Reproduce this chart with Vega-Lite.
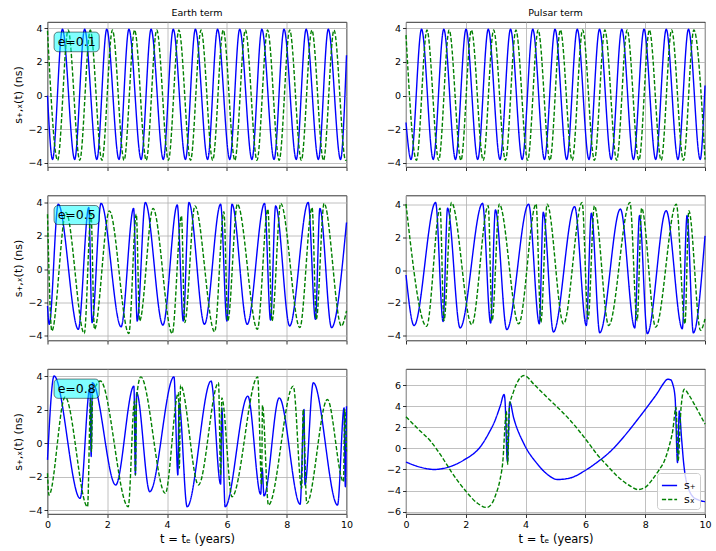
{
  "$schema": "https://vega.github.io/schema/vega-lite/v6.json",
  "background": "white",
  "padding": {"left": 12.5, "top": 7, "right": 4, "bottom": 2},
  "datasets": {
    "e1": [
      {"t": 0, "v": 0, "s": "+"}, {"t": 0.168, "v": -3.8, "s": "+"}, {"t": 0.5, "v": 3.95, "s": "+"},
      {"t": 0.909, "v": -3.8, "s": "+"}, {"t": 1.241, "v": 3.95, "s": "+"}, {"t": 1.65, "v": -3.8, "s": "+"},
      {"t": 1.982, "v": 3.95, "s": "+"}, {"t": 2.391, "v": -3.8, "s": "+"}, {"t": 2.723, "v": 3.95, "s": "+"},
      {"t": 3.132, "v": -3.8, "s": "+"}, {"t": 3.464, "v": 3.95, "s": "+"}, {"t": 3.873, "v": -3.8, "s": "+"},
      {"t": 4.205, "v": 3.95, "s": "+"}, {"t": 4.614, "v": -3.8, "s": "+"}, {"t": 4.946, "v": 3.95, "s": "+"},
      {"t": 5.355, "v": -3.8, "s": "+"}, {"t": 5.687, "v": 3.95, "s": "+"}, {"t": 6.096, "v": -3.8, "s": "+"},
      {"t": 6.428, "v": 3.95, "s": "+"}, {"t": 6.837, "v": -3.8, "s": "+"}, {"t": 7.169, "v": 3.95, "s": "+"},
      {"t": 7.578, "v": -3.8, "s": "+"}, {"t": 7.91, "v": 3.95, "s": "+"}, {"t": 8.319, "v": -3.8, "s": "+"},
      {"t": 8.651, "v": 3.95, "s": "+"}, {"t": 9.06, "v": -3.8, "s": "+"}, {"t": 9.392, "v": 3.95, "s": "+"},
      {"t": 9.801, "v": -3.8, "s": "+"}, {"t": 10, "v": 2.4, "s": "+"},
      {"t": 0, "v": 3.85, "s": "x"}, {"t": 0.338, "v": -3.85, "s": "x"}, {"t": 0.69, "v": 3.9, "s": "x"},
      {"t": 1.079, "v": -3.85, "s": "x"}, {"t": 1.431, "v": 3.9, "s": "x"}, {"t": 1.82, "v": -3.85, "s": "x"},
      {"t": 2.172, "v": 3.9, "s": "x"}, {"t": 2.561, "v": -3.85, "s": "x"}, {"t": 2.913, "v": 3.9, "s": "x"},
      {"t": 3.302, "v": -3.85, "s": "x"}, {"t": 3.654, "v": 3.9, "s": "x"}, {"t": 4.043, "v": -3.85, "s": "x"},
      {"t": 4.395, "v": 3.9, "s": "x"}, {"t": 4.784, "v": -3.85, "s": "x"}, {"t": 5.136, "v": 3.9, "s": "x"},
      {"t": 5.525, "v": -3.85, "s": "x"}, {"t": 5.877, "v": 3.9, "s": "x"}, {"t": 6.266, "v": -3.85, "s": "x"},
      {"t": 6.618, "v": 3.9, "s": "x"}, {"t": 7.007, "v": -3.85, "s": "x"}, {"t": 7.359, "v": 3.9, "s": "x"},
      {"t": 7.748, "v": -3.85, "s": "x"}, {"t": 8.1, "v": 3.9, "s": "x"}, {"t": 8.489, "v": -3.85, "s": "x"},
      {"t": 8.841, "v": 3.9, "s": "x"}, {"t": 9.23, "v": -3.85, "s": "x"}, {"t": 9.582, "v": 3.9, "s": "x"},
      {"t": 9.971, "v": -3.85, "s": "x"}, {"t": 10, "v": -3.82, "s": "x"}
    ],
    "p1": [
      {"t": 0, "v": -1.6, "s": "+"}, {"t": 0.167, "v": -3.8, "s": "+"}, {"t": 0.52, "v": 3.95, "s": "+"},
      {"t": 0.911, "v": -3.8, "s": "+"}, {"t": 1.264, "v": 3.95, "s": "+"}, {"t": 1.655, "v": -3.8, "s": "+"},
      {"t": 2.008, "v": 3.95, "s": "+"}, {"t": 2.399, "v": -3.8, "s": "+"}, {"t": 2.752, "v": 3.95, "s": "+"},
      {"t": 3.143, "v": -3.8, "s": "+"}, {"t": 3.496, "v": 3.95, "s": "+"}, {"t": 3.887, "v": -3.8, "s": "+"},
      {"t": 4.24, "v": 3.95, "s": "+"}, {"t": 4.631, "v": -3.8, "s": "+"}, {"t": 4.984, "v": 3.95, "s": "+"},
      {"t": 5.375, "v": -3.8, "s": "+"}, {"t": 5.728, "v": 3.95, "s": "+"}, {"t": 6.119, "v": -3.8, "s": "+"},
      {"t": 6.472, "v": 3.95, "s": "+"}, {"t": 6.863, "v": -3.8, "s": "+"}, {"t": 7.216, "v": 3.95, "s": "+"},
      {"t": 7.607, "v": -3.8, "s": "+"}, {"t": 7.96, "v": 3.95, "s": "+"}, {"t": 8.351, "v": -3.8, "s": "+"},
      {"t": 8.704, "v": 3.95, "s": "+"}, {"t": 9.095, "v": -3.8, "s": "+"}, {"t": 9.448, "v": 3.95, "s": "+"},
      {"t": 9.839, "v": -3.8, "s": "+"}, {"t": 10, "v": 0.6, "s": "+"},
      {"t": 0, "v": 3.6, "s": "x"}, {"t": 0.35, "v": -3.85, "s": "x"}, {"t": 0.7, "v": 3.9, "s": "x"},
      {"t": 1.094, "v": -3.85, "s": "x"}, {"t": 1.444, "v": 3.9, "s": "x"}, {"t": 1.838, "v": -3.85, "s": "x"},
      {"t": 2.188, "v": 3.9, "s": "x"}, {"t": 2.582, "v": -3.85, "s": "x"}, {"t": 2.932, "v": 3.9, "s": "x"},
      {"t": 3.326, "v": -3.85, "s": "x"}, {"t": 3.676, "v": 3.9, "s": "x"}, {"t": 4.07, "v": -3.85, "s": "x"},
      {"t": 4.42, "v": 3.9, "s": "x"}, {"t": 4.814, "v": -3.85, "s": "x"}, {"t": 5.164, "v": 3.9, "s": "x"},
      {"t": 5.558, "v": -3.85, "s": "x"}, {"t": 5.908, "v": 3.9, "s": "x"}, {"t": 6.302, "v": -3.85, "s": "x"},
      {"t": 6.652, "v": 3.9, "s": "x"}, {"t": 7.046, "v": -3.85, "s": "x"}, {"t": 7.396, "v": 3.9, "s": "x"},
      {"t": 7.79, "v": -3.85, "s": "x"}, {"t": 8.14, "v": 3.9, "s": "x"}, {"t": 8.534, "v": -3.85, "s": "x"},
      {"t": 8.884, "v": 3.9, "s": "x"}, {"t": 9.278, "v": -3.85, "s": "x"}, {"t": 9.628, "v": 3.9, "s": "x"},
      {"t": 10, "v": -3.8, "s": "x"}
    ],
    "e5": [
      {"t": 0, "v": -2.2, "s": "+"}, {"t": 0.056, "v": -3.3, "s": "+"}, {"t": 0.36, "v": 3.9, "s": "+"},
      {"t": 1.03, "v": -3.6, "s": "+"}, {"t": 1.38, "v": 3.7, "s": "+"}, {"t": 1.49, "v": -3.2, "s": "+"},
      {"t": 1.79, "v": 3.95, "s": "+"}, {"t": 2.46, "v": -3.45, "s": "+"}, {"t": 2.88, "v": 3.65, "s": "+"},
      {"t": 3.0, "v": -3.1, "s": "+"}, {"t": 3.27, "v": 4.0, "s": "+"}, {"t": 3.86, "v": -3.35, "s": "+"},
      {"t": 4.34, "v": 3.85, "s": "+"}, {"t": 4.54, "v": -3.1, "s": "+"}, {"t": 4.73, "v": 4.0, "s": "+"},
      {"t": 5.25, "v": -3.3, "s": "+"}, {"t": 5.79, "v": 3.9, "s": "+"}, {"t": 6.0, "v": -3.1, "s": "+"},
      {"t": 6.17, "v": 3.9, "s": "+"}, {"t": 6.68, "v": -3.3, "s": "+"}, {"t": 7.26, "v": 3.95, "s": "+"},
      {"t": 7.46, "v": -3.05, "s": "+"}, {"t": 7.63, "v": 3.8, "s": "+"}, {"t": 8.1, "v": -3.4, "s": "+"},
      {"t": 8.72, "v": 4.0, "s": "+"}, {"t": 8.96, "v": -3.0, "s": "+"}, {"t": 9.11, "v": 3.65, "s": "+"},
      {"t": 9.5, "v": -3.5, "s": "+"}, {"t": 10, "v": 2.8, "s": "+"},
      {"t": 0, "v": 3.3, "s": "x"}, {"t": 0.146, "v": -3.7, "s": "x"}, {"t": 0.62, "v": 3.4, "s": "x"},
      {"t": 1.23, "v": -3.85, "s": "x"}, {"t": 1.455, "v": 3.3, "s": "x"}, {"t": 1.57, "v": -3.6, "s": "x"},
      {"t": 2.07, "v": 3.5, "s": "x"}, {"t": 2.72, "v": -3.85, "s": "x"}, {"t": 2.97, "v": 3.3, "s": "x"},
      {"t": 3.08, "v": -3.1, "s": "x"}, {"t": 3.53, "v": 3.65, "s": "x"}, {"t": 4.17, "v": -3.85, "s": "x"},
      {"t": 4.48, "v": 3.2, "s": "x"}, {"t": 4.59, "v": -3.2, "s": "x"}, {"t": 4.93, "v": 3.8, "s": "x"},
      {"t": 5.59, "v": -3.75, "s": "x"}, {"t": 5.9, "v": 3.45, "s": "x"}, {"t": 6.03, "v": -3.1, "s": "x"},
      {"t": 6.35, "v": 3.9, "s": "x"}, {"t": 7.02, "v": -3.6, "s": "x"}, {"t": 7.37, "v": 3.6, "s": "x"},
      {"t": 7.51, "v": -3.1, "s": "x"}, {"t": 7.8, "v": 3.95, "s": "x"}, {"t": 8.44, "v": -3.5, "s": "x"},
      {"t": 8.85, "v": 3.7, "s": "x"}, {"t": 8.99, "v": -3.0, "s": "x"}, {"t": 9.25, "v": 3.95, "s": "x"},
      {"t": 9.83, "v": -3.4, "s": "x"}, {"t": 10, "v": -2.5, "s": "x"}
    ],
    "p5": [
      {"t": 0, "v": -0.3, "s": "+"}, {"t": 0.27, "v": -3.4, "s": "+"}, {"t": 0.99, "v": 4.15, "s": "+"},
      {"t": 1.24, "v": -3.15, "s": "+"}, {"t": 1.39, "v": 3.8, "s": "+"}, {"t": 1.81, "v": -3.55, "s": "+"},
      {"t": 2.56, "v": 4.1, "s": "+"}, {"t": 2.83, "v": -3.25, "s": "+"}, {"t": 2.99, "v": 3.7, "s": "+"},
      {"t": 3.37, "v": -3.65, "s": "+"}, {"t": 4.1, "v": 4.05, "s": "+"}, {"t": 4.46, "v": -3.3, "s": "+"},
      {"t": 4.59, "v": 3.55, "s": "+"}, {"t": 4.93, "v": -3.8, "s": "+"}, {"t": 5.64, "v": 3.9, "s": "+"},
      {"t": 6.03, "v": -3.4, "s": "+"}, {"t": 6.2, "v": 3.5, "s": "+"}, {"t": 6.48, "v": -3.85, "s": "+"},
      {"t": 7.17, "v": 3.75, "s": "+"}, {"t": 7.65, "v": -3.55, "s": "+"}, {"t": 7.81, "v": 3.35, "s": "+"},
      {"t": 8.07, "v": -3.9, "s": "+"}, {"t": 8.7, "v": 3.65, "s": "+"}, {"t": 9.24, "v": -3.6, "s": "+"},
      {"t": 9.4, "v": 3.35, "s": "+"}, {"t": 9.61, "v": -3.85, "s": "+"}, {"t": 10, "v": 2.1, "s": "+"},
      {"t": 0, "v": 4.05, "s": "x"}, {"t": 0.69, "v": -3.45, "s": "x"}, {"t": 1.14, "v": 3.8, "s": "x"},
      {"t": 1.27, "v": -3.1, "s": "x"}, {"t": 1.52, "v": 4.15, "s": "x"}, {"t": 2.2, "v": -3.35, "s": "x"},
      {"t": 2.75, "v": 3.95, "s": "x"}, {"t": 2.88, "v": -3.1, "s": "x"}, {"t": 3.12, "v": 4.05, "s": "x"},
      {"t": 3.77, "v": -3.3, "s": "x"}, {"t": 4.35, "v": 4.05, "s": "x"}, {"t": 4.51, "v": -3.2, "s": "x"},
      {"t": 4.72, "v": 4.05, "s": "x"}, {"t": 5.27, "v": -3.3, "s": "x"}, {"t": 5.89, "v": 4.15, "s": "x"},
      {"t": 6.09, "v": -3.0, "s": "x"}, {"t": 6.3, "v": 3.95, "s": "x"}, {"t": 6.78, "v": -3.4, "s": "x"},
      {"t": 7.49, "v": 4.15, "s": "x"}, {"t": 7.73, "v": -3.1, "s": "x"}, {"t": 7.88, "v": 3.8, "s": "x"},
      {"t": 8.35, "v": -3.5, "s": "x"}, {"t": 9.04, "v": 4.05, "s": "x"}, {"t": 9.33, "v": -3.3, "s": "x"},
      {"t": 9.46, "v": 3.65, "s": "x"}, {"t": 9.85, "v": -3.7, "s": "x"}, {"t": 10, "v": -3.0, "s": "x"}
    ],
    "e8": [
      {"t": 0, "v": -1.0, "s": "+"}, {"t": 0.22, "v": 4.0, "s": "+"}, {"t": 1.09, "v": -3.3, "s": "+"},
      {"t": 1.42, "v": 3.3, "s": "+"}, {"t": 1.46, "v": -0.8, "s": "+"}, {"t": 1.5, "v": 3.6, "s": "+"},
      {"t": 2.28, "v": -2.5, "s": "+"}, {"t": 2.89, "v": 3.4, "s": "+"}, {"t": 2.94, "v": -1.9, "s": "+"},
      {"t": 2.98, "v": 3.0, "s": "+"}, {"t": 3.42, "v": -2.9, "s": "+"}, {"t": 4.23, "v": 3.95, "s": "+"},
      {"t": 4.36, "v": -1.9, "s": "+"}, {"t": 4.4, "v": 2.4, "s": "+"}, {"t": 4.67, "v": -3.8, "s": "+"},
      {"t": 5.47, "v": 3.7, "s": "+"}, {"t": 5.79, "v": -2.45, "s": "+"}, {"t": 5.83, "v": 2.1, "s": "+"},
      {"t": 5.94, "v": -3.8, "s": "+"}, {"t": 6.7, "v": 2.8, "s": "+"}, {"t": 7.13, "v": -3.05, "s": "+"},
      {"t": 7.18, "v": -1.5, "s": "+"}, {"t": 7.24, "v": -3.15, "s": "+"}, {"t": 7.75, "v": 2.7, "s": "+"},
      {"t": 8.45, "v": -3.65, "s": "+"}, {"t": 8.58, "v": 2.0, "s": "+"}, {"t": 8.61, "v": -2.5, "s": "+"},
      {"t": 8.89, "v": 3.6, "s": "+"}, {"t": 9.7, "v": -3.7, "s": "+"}, {"t": 9.92, "v": 2.1, "s": "+"},
      {"t": 9.96, "v": -2.6, "s": "+"}, {"t": 10, "v": 2.2, "s": "+"},
      {"t": 0, "v": -1.8, "s": "x"}, {"t": 0.05, "v": -3.1, "s": "x"}, {"t": 0.59, "v": 2.75, "s": "x"},
      {"t": 1.34, "v": -3.8, "s": "x"}, {"t": 1.44, "v": 2.6, "s": "x"}, {"t": 1.47, "v": -0.5, "s": "x"},
      {"t": 1.51, "v": 2.9, "s": "x"}, {"t": 1.77, "v": 3.7, "s": "x"}, {"t": 2.7, "v": -3.8, "s": "x"},
      {"t": 2.91, "v": 2.5, "s": "x"}, {"t": 2.94, "v": -1.9, "s": "x"}, {"t": 2.98, "v": 2.7, "s": "x"},
      {"t": 3.12, "v": 3.95, "s": "x"}, {"t": 3.94, "v": -3.0, "s": "x"}, {"t": 4.38, "v": 3.0, "s": "x"},
      {"t": 4.41, "v": -1.5, "s": "x"}, {"t": 4.45, "v": 3.45, "s": "x"}, {"t": 5.05, "v": -2.5, "s": "x"},
      {"t": 5.72, "v": 3.6, "s": "x"}, {"t": 5.79, "v": -1.9, "s": "x"}, {"t": 5.83, "v": 2.7, "s": "x"},
      {"t": 6.17, "v": -3.2, "s": "x"}, {"t": 7.03, "v": 3.95, "s": "x"}, {"t": 7.16, "v": -2.5, "s": "x"},
      {"t": 7.19, "v": 2.25, "s": "x"}, {"t": 7.39, "v": -3.7, "s": "x"}, {"t": 8.22, "v": 3.4, "s": "x"},
      {"t": 8.5, "v": -2.7, "s": "x"}, {"t": 8.55, "v": 2.0, "s": "x"}, {"t": 8.67, "v": -3.6, "s": "x"},
      {"t": 9.36, "v": 2.6, "s": "x"}, {"t": 9.9, "v": -2.3, "s": "x"}, {"t": 9.94, "v": 2.0, "s": "x"},
      {"t": 10, "v": -0.5, "s": "x"}
    ],
    "p8": [
      {"t": 0, "v": -1.3, "s": "+"}, {"t": 0.5, "v": -1.8, "s": "+"}, {"t": 0.94, "v": -2.0, "s": "+"},
      {"t": 1.5, "v": -1.7, "s": "+"}, {"t": 1.94, "v": -1.1, "s": "+"}, {"t": 2.5, "v": 0.2, "s": "+"},
      {"t": 2.8, "v": 1.6, "s": "+"}, {"t": 2.95, "v": 2.45, "s": "+"}, {"t": 3.15, "v": 4.0, "s": "+"},
      {"t": 3.28, "v": 5.1, "s": "+"}, {"t": 3.31, "v": 4.6, "s": "+"}, {"t": 3.39, "v": -1.2, "s": "+"},
      {"t": 3.47, "v": 4.4, "s": "+"}, {"t": 3.6, "v": 2.9, "s": "+"}, {"t": 3.95, "v": 0.4, "s": "+"},
      {"t": 4.4, "v": -1.5, "s": "+"}, {"t": 4.7, "v": -2.4, "s": "+"}, {"t": 5.07, "v": -2.95, "s": "+"},
      {"t": 5.5, "v": -2.8, "s": "+"}, {"t": 5.96, "v": -2.15, "s": "+"}, {"t": 6.4, "v": -1.3, "s": "+"},
      {"t": 6.85, "v": -0.25, "s": "+"}, {"t": 7.3, "v": 1.15, "s": "+"}, {"t": 7.75, "v": 2.75, "s": "+"},
      {"t": 8.1, "v": 4.05, "s": "+"}, {"t": 8.42, "v": 5.3, "s": "+"}, {"t": 8.6, "v": 6.1, "s": "+"},
      {"t": 8.75, "v": 6.55, "s": "+"}, {"t": 8.85, "v": 6.5, "s": "+"}, {"t": 8.92, "v": 6.1, "s": "+"},
      {"t": 9.0, "v": 4.8, "s": "+"}, {"t": 9.08, "v": -1.35, "s": "+"}, {"t": 9.14, "v": 3.55, "s": "+"},
      {"t": 9.22, "v": 0.8, "s": "+"}, {"t": 9.29, "v": -1.5, "s": "+"}, {"t": 9.38, "v": -3.2, "s": "+"},
      {"t": 9.48, "v": -4.05, "s": "+"}, {"t": 9.6, "v": -4.6, "s": "+"}, {"t": 9.75, "v": -4.85, "s": "+"},
      {"t": 9.9, "v": -5.0, "s": "+"}, {"t": 10, "v": -5.05, "s": "+"},
      {"t": 0, "v": 3.0, "s": "x"}, {"t": 0.4, "v": 1.85, "s": "x"}, {"t": 0.83, "v": 0.65, "s": "x"},
      {"t": 1.2, "v": -0.8, "s": "x"}, {"t": 1.5, "v": -2.15, "s": "x"}, {"t": 2.0, "v": -4.05, "s": "x"},
      {"t": 2.39, "v": -5.2, "s": "x"}, {"t": 2.7, "v": -5.6, "s": "x"}, {"t": 2.9, "v": -5.1, "s": "x"},
      {"t": 3.0, "v": -4.4, "s": "x"}, {"t": 3.15, "v": -2.9, "s": "x"}, {"t": 3.23, "v": -1.5, "s": "x"},
      {"t": 3.36, "v": 3.5, "s": "x"}, {"t": 3.4, "v": -1.5, "s": "x"}, {"t": 3.46, "v": 3.9, "s": "x"},
      {"t": 3.6, "v": 5.4, "s": "x"}, {"t": 3.75, "v": 6.4, "s": "x"}, {"t": 3.95, "v": 6.9, "s": "x"},
      {"t": 4.3, "v": 6.0, "s": "x"}, {"t": 4.73, "v": 4.8, "s": "x"}, {"t": 5.1, "v": 3.8, "s": "x"},
      {"t": 5.51, "v": 2.6, "s": "x"}, {"t": 6.0, "v": 0.9, "s": "x"}, {"t": 6.4, "v": -0.6, "s": "x"},
      {"t": 6.75, "v": -1.7, "s": "x"}, {"t": 7.07, "v": -2.65, "s": "x"}, {"t": 7.52, "v": -3.6, "s": "x"},
      {"t": 7.75, "v": -3.9, "s": "x"}, {"t": 8.0, "v": -3.7, "s": "x"}, {"t": 8.2, "v": -3.1, "s": "x"},
      {"t": 8.45, "v": -2.1, "s": "x"}, {"t": 8.64, "v": -1.2, "s": "x"}, {"t": 8.8, "v": 0.2, "s": "x"},
      {"t": 8.92, "v": 1.65, "s": "x"}, {"t": 9.03, "v": 3.9, "s": "x"}, {"t": 9.1, "v": -1.2, "s": "x"},
      {"t": 9.2, "v": 3.9, "s": "x"}, {"t": 9.31, "v": 5.6, "s": "x"}, {"t": 9.45, "v": 5.1, "s": "x"},
      {"t": 9.64, "v": 4.2, "s": "x"}, {"t": 9.85, "v": 3.1, "s": "x"}, {"t": 10, "v": 2.3, "s": "x"}
    ]
  },
  "columns": 2,
  "spacing": {"row": 28.5, "column": 59.5},
  "bounds": "flush",
  "resolve": {
    "scale": {"x": "independent", "y": "independent", "color": "independent", "strokeDash": "independent"},
    "legend": {"color": "independent", "strokeDash": "independent"}
  },
  "concat": [
    {
      "width": 299, "height": 145,
      "title": "Earth term",
      "layer": [
        {
          "data": {"name": "e1"},
          "mark": {"type": "line"},
          "encoding": {
            "x": {"field": "t", "type": "quantitative", "scale": {"domain": [0, 10], "nice": false}, "axis": {"values": [0, 2, 4, 6, 8, 10], "labels": false, "title": null}},
            "y": {"field": "v", "type": "quantitative", "scale": {"domain": [-4.25, 4.38], "nice": false, "zero": false}, "axis": {"values": [-4, -2, 0, 2, 4], "title": "s₊,ₓ(t)  (ns)"}},
            "color": {"field": "s", "type": "nominal", "scale": {"domain": ["+", "x"], "range": ["#0000ff", "#008000"]}, "legend": null},
            "strokeDash": {"field": "s", "type": "nominal", "scale": {"domain": ["+", "x"], "range": [[1, 0], [4.2, 2]]}, "legend": null}
          }
        },
        {
          "data": {"values": [{}]},
          "mark": {"type": "rect", "fill": "cyan", "fillOpacity": 0.5, "stroke": "black", "strokeOpacity": 0.5, "strokeWidth": 1, "cornerRadius": 4},
          "encoding": {
            "x": {"datum": 0.22, "type": "quantitative", "axis": {"values": [0, 2, 4, 6, 8, 10], "labels": false, "title": null}},
            "x2": {"datum": 1.73},
            "y": {"datum": 2.61, "type": "quantitative", "axis": {"values": [-4, -2, 0, 2, 4], "title": "s₊,ₓ(t)  (ns)"}},
            "y2": {"datum": 3.78}
          }
        },
        {
          "data": {"values": [{}]},
          "mark": {"type": "text", "text": "e=0.1", "fontSize": 12.5, "color": "black", "baseline": "middle"},
          "encoding": {
            "x": {"datum": 0.975, "type": "quantitative", "axis": {"values": [0, 2, 4, 6, 8, 10], "labels": false, "title": null}},
            "y": {"datum": 3.2, "type": "quantitative", "axis": {"values": [-4, -2, 0, 2, 4], "title": "s₊,ₓ(t)  (ns)"}}
          }
        }
      ]
    },
    {
      "width": 299, "height": 145,
      "title": "Pulsar term",
      "data": {"name": "p1"},
      "mark": {"type": "line"},
      "encoding": {
        "x": {"field": "t", "type": "quantitative", "scale": {"domain": [0, 10], "nice": false}, "axis": {"values": [0, 2, 4, 6, 8, 10], "labels": false, "title": null}},
        "y": {"field": "v", "type": "quantitative", "scale": {"domain": [-4.25, 4.38], "nice": false, "zero": false}, "axis": {"values": [-4, -2, 0, 2, 4], "title": null}},
        "color": {"field": "s", "type": "nominal", "scale": {"domain": ["+", "x"], "range": ["#0000ff", "#008000"]}, "legend": null},
        "strokeDash": {"field": "s", "type": "nominal", "scale": {"domain": ["+", "x"], "range": [[1, 0], [4.2, 2]]}, "legend": null}
      }
    },
    {
      "width": 299, "height": 145,
      "layer": [
        {
          "data": {"name": "e5"},
          "mark": {"type": "line"},
          "encoding": {
            "x": {"field": "t", "type": "quantitative", "scale": {"domain": [0, 10], "nice": false}, "axis": {"values": [0, 2, 4, 6, 8, 10], "labels": false, "title": null}},
            "y": {"field": "v", "type": "quantitative", "scale": {"domain": [-4.27, 4.42], "nice": false, "zero": false}, "axis": {"values": [-4, -2, 0, 2, 4], "title": "s₊,ₓ(t)  (ns)"}},
            "color": {"field": "s", "type": "nominal", "scale": {"domain": ["+", "x"], "range": ["#0000ff", "#008000"]}, "legend": null},
            "strokeDash": {"field": "s", "type": "nominal", "scale": {"domain": ["+", "x"], "range": [[1, 0], [4.2, 2]]}, "legend": null}
          }
        },
        {
          "data": {"values": [{}]},
          "mark": {"type": "rect", "fill": "cyan", "fillOpacity": 0.5, "stroke": "black", "strokeOpacity": 0.5, "strokeWidth": 1, "cornerRadius": 4},
          "encoding": {
            "x": {"datum": 0.22, "type": "quantitative", "axis": {"values": [0, 2, 4, 6, 8, 10], "labels": false, "title": null}},
            "x2": {"datum": 1.73},
            "y": {"datum": 2.68, "type": "quantitative", "axis": {"values": [-4, -2, 0, 2, 4], "title": "s₊,ₓ(t)  (ns)"}},
            "y2": {"datum": 3.82}
          }
        },
        {
          "data": {"values": [{}]},
          "mark": {"type": "text", "text": "e=0.5", "fontSize": 12.5, "color": "black", "baseline": "middle"},
          "encoding": {
            "x": {"datum": 0.975, "type": "quantitative", "axis": {"values": [0, 2, 4, 6, 8, 10], "labels": false, "title": null}},
            "y": {"datum": 3.25, "type": "quantitative", "axis": {"values": [-4, -2, 0, 2, 4], "title": "s₊,ₓ(t)  (ns)"}}
          }
        }
      ]
    },
    {
      "width": 299, "height": 145,
      "data": {"name": "p5"},
      "mark": {"type": "line"},
      "encoding": {
        "x": {"field": "t", "type": "quantitative", "scale": {"domain": [0, 10], "nice": false}, "axis": {"values": [0, 2, 4, 6, 8, 10], "labels": false, "title": null}},
        "y": {"field": "v", "type": "quantitative", "scale": {"domain": [-4.32, 4.58], "nice": false, "zero": false}, "axis": {"values": [-4, -2, 0, 2, 4], "title": null}},
        "color": {"field": "s", "type": "nominal", "scale": {"domain": ["+", "x"], "range": ["#0000ff", "#008000"]}, "legend": null},
        "strokeDash": {"field": "s", "type": "nominal", "scale": {"domain": ["+", "x"], "range": [[1, 0], [4.2, 2]]}, "legend": null}
      }
    },
    {
      "width": 299, "height": 145,
      "layer": [
        {
          "data": {"name": "e8"},
          "mark": {"type": "line"},
          "encoding": {
            "x": {"field": "t", "type": "quantitative", "scale": {"domain": [0, 10], "nice": false}, "axis": {"values": [0, 2, 4, 6, 8, 10], "title": "t = tₑ (years)"}},
            "y": {"field": "v", "type": "quantitative", "scale": {"domain": [-4.23, 4.42], "nice": false, "zero": false}, "axis": {"values": [-4, -2, 0, 2, 4], "title": "s₊,ₓ(t)  (ns)"}},
            "color": {"field": "s", "type": "nominal", "scale": {"domain": ["+", "x"], "range": ["#0000ff", "#008000"]}, "legend": null},
            "strokeDash": {"field": "s", "type": "nominal", "scale": {"domain": ["+", "x"], "range": [[1, 0], [4.2, 2]]}, "legend": null}
          }
        },
        {
          "data": {"values": [{}]},
          "mark": {"type": "rect", "fill": "cyan", "fillOpacity": 0.5, "stroke": "black", "strokeOpacity": 0.5, "strokeWidth": 1, "cornerRadius": 4},
          "encoding": {
            "x": {"datum": 0.22, "type": "quantitative", "axis": {"values": [0, 2, 4, 6, 8, 10], "title": "t = tₑ (years)"}},
            "x2": {"datum": 1.73},
            "y": {"datum": 2.67, "type": "quantitative", "axis": {"values": [-4, -2, 0, 2, 4], "title": "s₊,ₓ(t)  (ns)"}},
            "y2": {"datum": 3.82}
          }
        },
        {
          "data": {"values": [{}]},
          "mark": {"type": "text", "text": "e=0.8", "fontSize": 12.5, "color": "black", "baseline": "middle"},
          "encoding": {
            "x": {"datum": 0.975, "type": "quantitative", "axis": {"values": [0, 2, 4, 6, 8, 10], "title": "t = tₑ (years)"}},
            "y": {"datum": 3.245, "type": "quantitative", "axis": {"values": [-4, -2, 0, 2, 4], "title": "s₊,ₓ(t)  (ns)"}}
          }
        }
      ]
    },
    {
      "width": 299, "height": 145,
      "data": {"name": "p8"},
      "mark": {"type": "line"},
      "encoding": {
        "x": {"field": "t", "type": "quantitative", "scale": {"domain": [0, 10], "nice": false}, "axis": {"values": [0, 2, 4, 6, 8, 10], "title": "t = tₑ (years)"}},
        "y": {"field": "v", "type": "quantitative", "scale": {"domain": [-6.22, 7.52], "nice": false, "zero": false}, "axis": {"values": [-6, -4, -2, 0, 2, 4, 6], "title": null}},
        "color": {
          "field": "s", "type": "nominal",
          "scale": {"domain": ["+", "x"], "range": ["#0000ff", "#008000"]},
          "legend": {"orient": "bottom-right", "title": null, "offset": 5, "padding": 4, "fillColor": "rgba(255,255,255,0.8)", "strokeColor": "#cccccc", "cornerRadius": 3, "symbolType": "stroke", "symbolSize": 230, "symbolStrokeWidth": 1.4, "labelFontSize": 11, "labelOffset": 6, "labelExpr": "datum.label == '+' ? 's₊' : 'sₓ'", "rowPadding": 0}
        },
        "strokeDash": {
          "field": "s", "type": "nominal",
          "scale": {"domain": ["+", "x"], "range": [[1, 0], [4.2, 2]]},
          "legend": {"orient": "bottom-right", "title": null, "offset": 5, "padding": 4, "fillColor": "rgba(255,255,255,0.8)", "strokeColor": "#cccccc", "cornerRadius": 3, "symbolType": "stroke", "symbolSize": 230, "symbolStrokeWidth": 1.4, "labelFontSize": 11, "labelOffset": 6, "labelExpr": "datum.label == '+' ? 's₊' : 'sₓ'", "rowPadding": 0}
        }
      }
    }
  ],
  "config": {
    "font": "DejaVu Sans",
    "view": {"stroke": "black", "strokeWidth": 0.8},
    "line": {"strokeWidth": 1.4, "interpolate": "monotone", "clip": true},
    "axis": {
      "domain": false, "grid": true, "gridColor": "#b0b0b0", "gridWidth": 0.8,
      "ticks": true, "tickColor": "black", "tickSize": 3.5, "tickWidth": 0.8,
      "labelFont": "DejaVu Sans", "labelFontSize": 9.5, "labelColor": "black", "labelPadding": 2,
      "labelFlush": false, "labelOverlap": false,
      "titleFont": "DejaVu Sans", "titleFontWeight": "normal", "titleColor": "black", "titleFontSize": 11, "titlePadding": 4
    },
    "axisX": {"titleFontSize": 11.5},
    "legend": {"labelFont": "DejaVu Sans", "labelColor": "black"},
    "title": {"font": "DejaVu Sans", "fontSize": 9.5, "fontWeight": "normal", "color": "black", "offset": 5}
  }
}
